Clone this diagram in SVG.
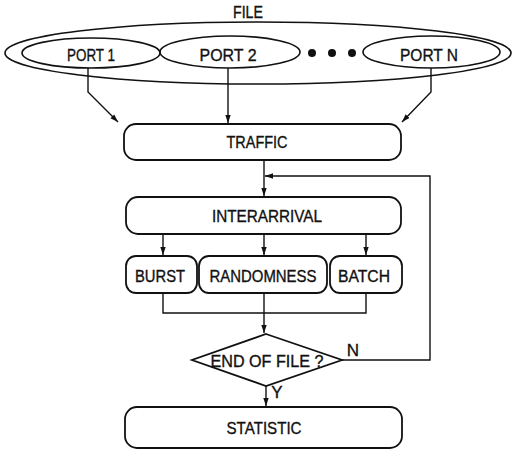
<svg xmlns="http://www.w3.org/2000/svg" width="513" height="454" viewBox="0 0 513 454">
<style>
  .s { fill: none; stroke: #111; stroke-width: 1.6; }
  .b { fill: #fff; stroke: #111; stroke-width: 1.8; }
  .t { font-family: "Liberation Sans", Arial, sans-serif; font-size: 17px; fill: #111; stroke: #111; stroke-width: 0.35; text-anchor: middle; }
  .c { fill: none; stroke: #111; stroke-width: 1.4; }
</style>
<defs>
  <marker id="ah" markerUnits="userSpaceOnUse" markerWidth="9" markerHeight="7" refX="8" refY="3.5" orient="auto">
    <path d="M0,0.8 L8,3.5 L0,6.2 z" fill="#111"/>
  </marker>
</defs>
<rect width="513" height="454" fill="#fff"/>

<g id="file">
  <ellipse class="s" cx="258" cy="53" rx="253" ry="31"/>
  <text class="t" x="248" y="18" textLength="30" lengthAdjust="spacingAndGlyphs">FILE</text>
</g>
<g id="port1">
  <ellipse class="s" cx="91" cy="53" rx="69" ry="15"/>
  <text class="t" x="91" y="61" textLength="48" lengthAdjust="spacingAndGlyphs">PORT 1</text>
</g>
<g id="port2">
  <ellipse class="s" cx="230" cy="52" rx="70" ry="16"/>
  <text class="t" x="228" y="61" textLength="57" lengthAdjust="spacingAndGlyphs">PORT 2</text>
</g>
<g id="dots">
  <circle cx="312" cy="53" r="4" fill="#111"/>
  <circle cx="332" cy="53" r="4" fill="#111"/>
  <circle cx="352" cy="53" r="4" fill="#111"/>
</g>
<g id="portN">
  <ellipse class="s" cx="431.5" cy="52" rx="68.5" ry="16"/>
  <text class="t" x="429" y="61" textLength="58" lengthAdjust="spacingAndGlyphs">PORT N</text>
</g>

<g id="traffic">
  <rect class="b" x="124" y="124" width="277" height="36" rx="12"/>
  <text class="t" x="257" y="148" textLength="61" lengthAdjust="spacingAndGlyphs">TRAFFIC</text>
</g>
<g id="interarrival">
  <rect class="b" x="126" y="197" width="275" height="37" rx="12"/>
  <text class="t" x="267" y="222" textLength="110" lengthAdjust="spacingAndGlyphs">INTERARRIVAL</text>
</g>
<g id="burst">
  <rect class="b" x="126" y="256" width="71" height="37" rx="10"/>
  <text class="t" x="160" y="282" textLength="50" lengthAdjust="spacingAndGlyphs">BURST</text>
</g>
<g id="randomness">
  <rect class="b" x="199" y="256" width="128" height="37" rx="10"/>
  <text class="t" x="263" y="282" textLength="107" lengthAdjust="spacingAndGlyphs">RANDOMNESS</text>
</g>
<g id="batch">
  <rect class="b" x="330" y="256" width="72" height="37" rx="10"/>
  <text class="t" x="364" y="282" textLength="52" lengthAdjust="spacingAndGlyphs">BATCH</text>
</g>
<g id="endoffile">
  <polygon class="b" points="266,334 342,360 266,386 192,360"/>
  <text class="t" x="267" y="367" textLength="113" lengthAdjust="spacingAndGlyphs">END OF FILE ?</text>
</g>
<g id="statistic">
  <rect class="b" x="125" y="407" width="277" height="41" rx="12"/>
  <text class="t" x="264" y="434" textLength="75" lengthAdjust="spacingAndGlyphs">STATISTIC</text>
</g>

<g id="connectors">
  <polyline class="c" points="88,68 88,92 118,122" marker-end="url(#ah)"/>
  <polyline class="c" points="228,68 228,123" marker-end="url(#ah)"/>
  <polyline class="c" points="431,68 431,92 402,122" marker-end="url(#ah)"/>
  <polyline class="c" points="264,160 264,196" marker-end="url(#ah)"/>
  <polyline class="c" points="342,360 430,360 430,176 265,176" marker-end="url(#ah)"/>
  <polyline class="c" points="163,234 163,255" marker-end="url(#ah)"/>
  <polyline class="c" points="264,234 264,255" marker-end="url(#ah)"/>
  <polyline class="c" points="366,234 366,255" marker-end="url(#ah)"/>
  <polyline class="c" points="163,293 163,313 366,313 366,293"/>
  <polyline class="c" points="264,293 264,333" marker-end="url(#ah)"/>
  <polyline class="c" points="266,386 266,406" marker-end="url(#ah)"/>
  <text class="t" x="353" y="356">N</text>
  <text class="t" x="277" y="398">Y</text>
</g>
</svg>
